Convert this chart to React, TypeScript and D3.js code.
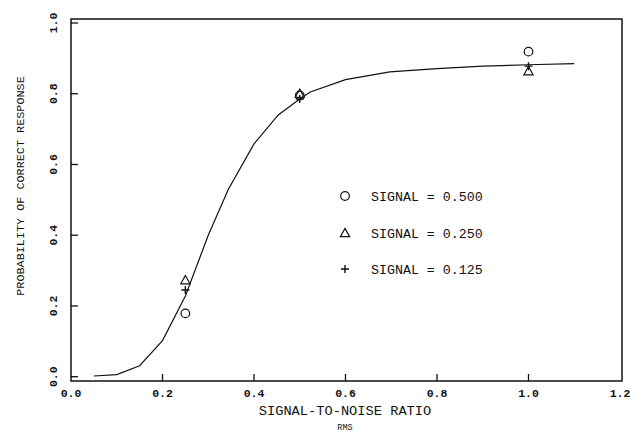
import React from "react";
import * as d3 from "d3";

const curveX = [0.05, 0.1, 0.15, 0.2, 0.25, 0.3, 0.344, 0.4, 0.453, 0.5, 0.523, 0.6, 0.697, 0.8, 0.9, 1.0, 1.1];
const curveY = [0.002, 0.006, 0.031, 0.102, 0.228, 0.4, 0.53, 0.658, 0.74, 0.785, 0.805, 0.84, 0.862, 0.871, 0.878, 0.882, 0.885];

const pointX = [0.25, 0.5, 1.0];
const circleY = [0.179, 0.795, 0.919];
const triangleY = [0.273, 0.8, 0.864];
const plusY = [0.245, 0.785, 0.878];

const legendLabels = ["SIGNAL = 0.500", "SIGNAL = 0.250", "SIGNAL = 0.125"];
const xTicks = [0, 0.2, 0.4, 0.6, 0.8, 1.0, 1.2];
const yTicks = [0, 0.2, 0.4, 0.6, 0.8, 1.0];

const W = 630;
const H = 432;
const FONT = "Liberation Mono, Courier New, Courier, DejaVu Sans Mono, monospace";

function Marker({ kind, x, y }: { kind: string; x: number; y: number }) {
  if (kind === "circle") {
    return <circle cx={x} cy={y} r={4.3} fill="none" stroke="#111" strokeWidth={1.2} />;
  }
  if (kind === "triangle") {
    const s = 4.6;
    const p = `M${x},${y - s} L${x + s},${y + s * 0.8} L${x - s},${y + s * 0.8} Z`;
    return <path d={p} fill="none" stroke="#111" strokeWidth={1.2} />;
  }
  const s = 4;
  return (
    <path d={`M${x - s},${y} H${x + s} M${x},${y - s} V${y + s}`} stroke="#111" strokeWidth={1.4} fill="none" />
  );
}

export default function App() {
  const x = d3.scaleLinear().domain([0, 1.2]).range([71, 620]);
  const y = d3.scaleLinear().domain([0, 1]).range([376.7, 23]);
  const line = d3
    .line<number>()
    .x((d, i) => x(curveX[i]))
    .y((d) => y(d));

  const series = [
    { kind: "circle", vals: circleY },
    { kind: "triangle", vals: triangleY },
    { kind: "plus", vals: plusY },
  ];
  const legendY = [196, 233, 269];
  const ts = { fontFamily: FONT } as React.CSSProperties;

  return (
    <svg width={W} height={H} style={{ position: "absolute", left: 0, top: 0, background: "#fff" }}>
      <rect x={0} y={0} width={W} height={H} fill="#fff" />
      <rect x={71} y={19} width={551} height={362} fill="none" stroke="#111" strokeWidth={1.5} />
      {xTicks.map((t) => (
        <g key={"xt" + t}>
          {t > 0 && t < 1.2 && <line x1={x(t)} x2={x(t)} y1={381} y2={374} stroke="#111" strokeWidth={1.3} />}
          <text x={x(t)} y={397} textAnchor="middle" style={ts} fontWeight="bold" fontSize={11.5} fill="#111">
            {t.toFixed(1)}
          </text>
        </g>
      ))}
      {yTicks.map((t) => (
        <g key={"yt" + t}>
          <line x1={71} x2={78} y1={y(t)} y2={y(t)} stroke="#111" strokeWidth={1.3} />
          <text
            transform={`translate(57,${y(t)}) rotate(-90)`}
            textAnchor="middle"
            style={ts}
            fontWeight="bold"
            fontSize={11.5}
            fill="#111"
          >
            {t.toFixed(1)}
          </text>
        </g>
      ))}
      <path d={line(curveY) || ""} fill="none" stroke="#111" strokeWidth={1.2} />
      {series.map((s) =>
        s.vals.map((v, i) => <Marker key={s.kind + i} kind={s.kind} x={x(pointX[i])} y={y(v)} />)
      )}
      {series.map((s, i) => (
        <g key={"lg" + i}>
          <Marker kind={s.kind} x={345} y={legendY[i]} />
          <text x={371} y={legendY[i] + 4.5} style={ts} fontSize={13.3} fill="#111">
            {legendLabels[i]}
          </text>
        </g>
      ))}
      <text x={345} y={415} textAnchor="middle" style={ts} fontSize={13.7} fill="#111">
        SIGNAL-TO-NOISE RATIO
      </text>
      <text x={345} y={430} textAnchor="middle" style={ts} fontSize={8.5} fill="#111">
        RMS
      </text>
      <text transform="translate(24,186) rotate(-90)" textAnchor="middle" style={ts} fontSize={11.8} fill="#111">
        PROBABILITY OF CORRECT RESPONSE
      </text>
    </svg>
  );
}
